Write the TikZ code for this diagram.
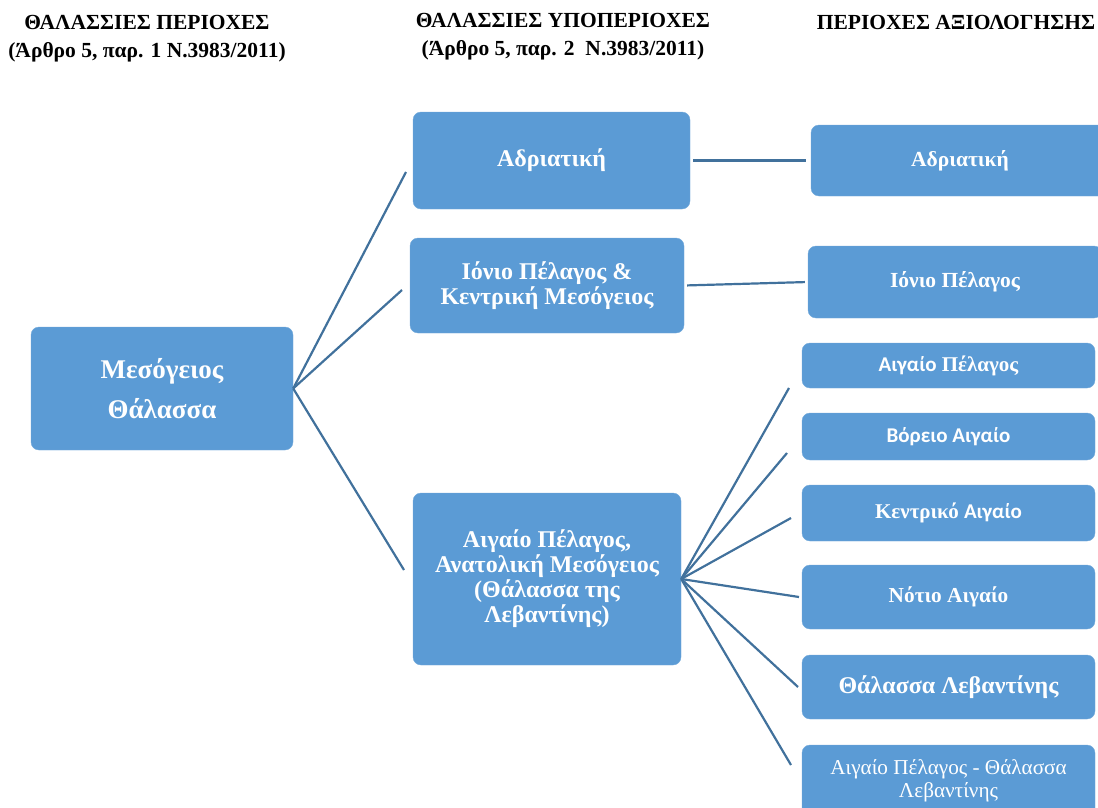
\documentclass[tikz,border=0pt]{standalone}
\usepackage{fontspec}
\setmainfont{Liberation Serif}
\newfontfamily\calfont{Carlito}
\definecolor{boxblue}{HTML}{5B9BD5}
\definecolor{lineblue}{HTML}{41719C}

\begin{document}
\begin{tikzpicture}[x=1pt,y=-1pt,
  box/.style={rounded corners=8pt,fill=boxblue,draw=boxblue!85!white,text=white,font=\bfseries,align=center,inner sep=2pt},
  head/.style={align=center,font=\bfseries\fontsize{21.5}{28}\selectfont},
  link/.style={draw=lineblue,line width=2.2pt}]
\useasboundingbox (0,0) rectangle (1098,808);
\clip (0,0) rectangle (1098,808);

\node[head] (h1) at (147,39) {ΘΑΛΑΣΣΙΕΣ ΠΕΡΙΟΧΕΣ\\(Άρθρο 5, παρ. 1 Ν.3983/2011)};
\node[head] (h2) at (563,37) {ΘΑΛΑΣΣΙΕΣ ΥΠΟΠΕΡΙΟΧΕΣ\\(Άρθρο 5, παρ. 2\ \ Ν.3983/2011)};
\node[head] (h3) at (956,22) {ΠΕΡΙΟΧΕΣ ΑΞΙΟΛΟΓΗΣΗΣ};

\node[box,minimum width=262,minimum height=123,font=\bfseries\fontsize{27}{40}\selectfont] (mes) at (162,388.5) {Μεσόγειος\\Θάλασσα};

\node[box,minimum width=277,minimum height=97,font=\bfseries\fontsize{24}{25}\selectfont] (adr) at (551.5,160.5) {Αδριατική};
\node[box,minimum width=274,minimum height=95,font=\bfseries\fontsize{24}{25}\selectfont] (ion) at (547,285.5) {Ιόνιο Πέλαγος \&\\Κεντρική Μεσόγειος};
\node[box,minimum width=268,minimum height=172,font=\bfseries\fontsize{24}{25}\selectfont] (aeg) at (547,579) {Αιγαίο Πέλαγος,\\Ανατολική Μεσόγειος\\(Θάλασσα της\\Λεβαντίνης)};

\node[box,minimum width=298,minimum height=71,font=\bfseries\fontsize{21.5}{24}\selectfont] (radr) at (960,160.5) {Αδριατική};
\node[box,minimum width=294,minimum height=72,font=\bfseries\fontsize{21.5}{24}\selectfont] (rion) at (955,282) {Ιόνιο Πέλαγος};
\node[box,minimum width=293,minimum height=45,font=\bfseries\fontsize{21}{24}\selectfont] (r1) at (948.5,365.5) {{\calfont Αιγαίο} Πέλαγος};
\node[box,minimum width=293,minimum height=47,font=\bfseries\fontsize{21}{24}\selectfont] (r2) at (948.5,436.5) {\calfont Βόρειο Αιγαίο};
\node[box,minimum width=293,minimum height=56,font=\bfseries\fontsize{21}{24}\selectfont] (r3) at (948.5,513) {Κεντρικό {\calfont Αιγαίο}};
\node[box,minimum width=293,minimum height=64,font=\bfseries\fontsize{21.3}{24}\selectfont] (r4) at (948.5,597) {Νότιο Αιγαίο};
\node[box,minimum width=293,minimum height=64,font=\bfseries\fontsize{24}{28}\selectfont] (r5) at (948.5,687) {Θάλασσα Λεβαντίνης};
\node[box,minimum width=293,minimum height=72,font=\fontsize{21.2}{23}\selectfont] (r6) at (948.5,781) {Αιγαίο Πέλαγος - Θάλασσα\\Λεβαντίνης};

\coordinate (m1) at (406,172);
\coordinate (m2) at (402,290);
\coordinate (m3) at (404,570);
\coordinate (a1) at (789,388);
\coordinate (a2) at (787,453);
\coordinate (a3) at (791,518);
\coordinate (a4) at (799,597);
\coordinate (a5) at (798,687);
\coordinate (a6) at (791,765);

\draw[link] (mes.east) -- (m1);
\draw[link] (mes.east) -- (m2);
\draw[link] (mes.east) -- (m3);
\draw[link,shorten <=3pt,shorten >=5pt] (adr.east) -- (radr.west);
\draw[link,shorten <=3pt,shorten >=3pt] (ion.east) -- (rion.west);
\draw[link] (aeg.east) -- (a1);
\draw[link] (aeg.east) -- (a2);
\draw[link] (aeg.east) -- (a3);
\draw[link] (aeg.east) -- (a4);
\draw[link] (aeg.east) -- (a5);
\draw[link] (aeg.east) -- (a6);
\end{tikzpicture}
\end{document}
